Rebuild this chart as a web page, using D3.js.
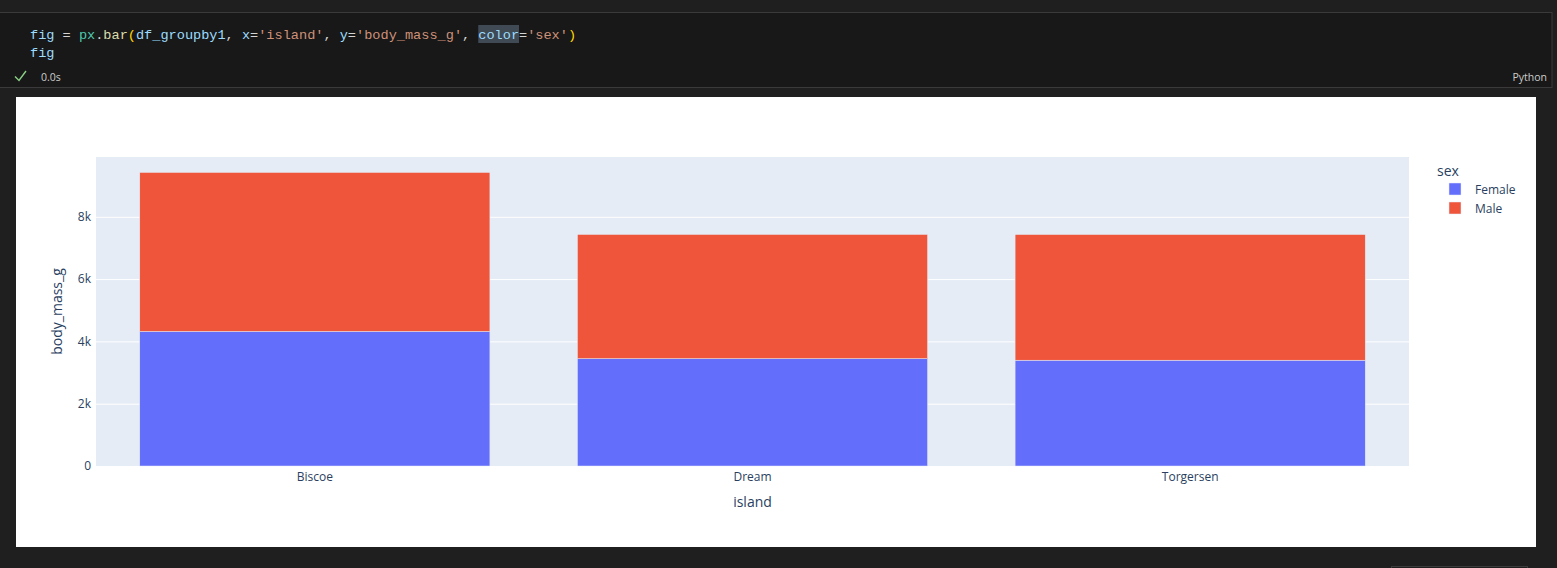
<!DOCTYPE html>
<html><head><meta charset="utf-8">
<script src="https://cdn.jsdelivr.net/npm/d3@7"></script>
<style>
html,body{margin:0;padding:0;background:#1f1f1f;overflow:hidden}
svg{display:block}
</style></head>
<body>
<svg id="c" width="1557" height="568"></svg>
<script>
const islands = ["Biscoe", "Dream", "Torgersen"];
const sexes = ["Female", "Male"];
const femaleMass = [4319, 3446, 3396];
const maleMass = [5105, 3987, 4035];
const sexColors = ["#636efa", "#EF553B"];
const yTicks = [0, 2000, 4000, 6000, 8000];

const svg = d3.select("#c");
const W = 1557, H = 568;
svg.append("rect").attr("width", W).attr("height", H).attr("fill", "#1f1f1f");

// code cell
svg.append("rect").attr("x", -1).attr("y", 12.5).attr("width", 1553).attr("height", 75)
  .attr("fill", "#181818").attr("stroke", "#3a3a3a").attr("stroke-width", 1);

const mono = "'Liberation Mono','DejaVu Sans Mono',monospace";
const line1 = [
  ["fig", "#9cdcfe"], [" = ", "#d4d4d4"], ["px", "#4ec9b0"], [".", "#d4d4d4"], ["bar", "#dcdcaa"],
  ["(", "#ffd700"], ["df_groupby1", "#9cdcfe"], [", ", "#d4d4d4"], ["x", "#9cdcfe"], ["=", "#d4d4d4"],
  ["'island'", "#ce9178"], [", ", "#d4d4d4"], ["y", "#9cdcfe"], ["=", "#d4d4d4"], ["'body_mass_g'", "#ce9178"],
  [", ", "#d4d4d4"], ["color", "#9cdcfe", true], ["=", "#d4d4d4"], ["'sex'", "#ce9178"], [")", "#ffd700"]
];
const cw = 8.15;
let cx = 30;
line1.forEach(([t, col, hl]) => {
  if (hl) svg.append("rect").attr("x", cx).attr("y", 25).attr("width", t.length * cw).attr("height", 18).attr("fill", "#3f4a55");
  svg.append("text").attr("x", cx).attr("y", 39).attr("fill", col)
    .attr("font-family", mono).attr("font-size", 13.6).attr("xml:space", "preserve").text(t);
  cx += t.length * cw;
});
svg.append("text").attr("x", 30).attr("y", 57).attr("fill", "#9cdcfe")
  .attr("font-family", mono).attr("font-size", 13.6).text("fig");
svg.append("path").attr("d", "M15,76.5 L19,80.5 L26,71").attr("fill", "none").attr("stroke", "#89d185").attr("stroke-width", 1.4);
svg.append("text").attr("x", 41).attr("y", 81).attr("fill", "#cccccc")
  .attr("font-family", "'Open Sans',sans-serif").attr("font-size", 10.5).text("0.0s");
svg.append("text").attr("x", 1547).attr("y", 81).attr("fill", "#cccccc").attr("text-anchor", "end")
  .attr("font-family", "'Open Sans',sans-serif").attr("font-size", 10.5).text("Python");

// output area
svg.append("rect").attr("x", 16).attr("y", 97).attr("width", 1520).attr("height", 450).attr("fill", "#ffffff");
svg.append("rect").attr("x", 1391.5).attr("y", 566.5).attr("width", 136).attr("height", 10)
  .attr("fill", "none").attr("stroke", "#3c3c3c");

const m = {l: 96, r: 1409, t: 157, b: 466};
const x = d3.scaleBand().domain(islands).range([m.l, m.r]).paddingInner(0.2).paddingOuter(0.1);
const y = d3.scaleLinear().domain([0, 9920]).range([m.b, m.t]);
const font = "'Open Sans',sans-serif";
const tc = "#2a3f5f";

svg.append("rect").attr("x", m.l).attr("y", m.t).attr("width", m.r - m.l).attr("height", m.b - m.t).attr("fill", "#E5ECF6");

const yAxis = d3.axisLeft(y).tickValues(yTicks).tickFormat(d3.format("~s")).tickSize(-(m.r - m.l)).tickPadding(4);
const gy = svg.append("g").attr("transform", `translate(${m.l},0)`).call(yAxis);
gy.select(".domain").remove();
gy.selectAll("line").attr("stroke", "#ffffff").attr("stroke-width", 1);
gy.selectAll("text").attr("fill", tc).attr("font-family", font).attr("font-size", 12).attr("dx", -1);
gy.selectAll(".tick").filter(d => d === 0).select("line").remove();

const data = islands.map((isl, i) => ({isl, vals: [femaleMass[i], maleMass[i]]}));
const stack = d3.stack().keys([0, 1]).value((d, k) => d.vals[k]);
const series = stack(data);
series.forEach((s, k) => {
  svg.append("g").selectAll("rect").data(s).join("rect")
    .attr("x", d => x(d.data.isl))
    .attr("y", d => y(d[1]))
    .attr("width", x.bandwidth())
    .attr("height", d => y(d[0]) - y(d[1]))
    .attr("fill", sexColors[k])
    .attr("stroke", "#E5ECF6").attr("stroke-width", 0.5);
});

const xAxis = d3.axisBottom(x).tickSize(0).tickPadding(6);
const gx = svg.append("g").attr("transform", `translate(0,${m.b})`).call(xAxis);
gx.select(".domain").remove();
gx.selectAll("text").attr("fill", tc).attr("font-family", font).attr("font-size", 12);

svg.append("text").attr("x", (m.l + m.r) / 2).attr("y", 507).attr("text-anchor", "middle")
  .attr("fill", tc).attr("font-family", font).attr("font-size", 14).text("island");
svg.append("text").attr("transform", `translate(62,${(m.t + m.b) / 2}) rotate(-90)`).attr("text-anchor", "middle")
  .attr("fill", tc).attr("font-family", font).attr("font-size", 14).text("body_mass_g");

// legend
svg.append("text").attr("x", 1437).attr("y", 176).attr("fill", tc).attr("font-family", font).attr("font-size", 14).text("sex");
sexes.forEach((s, i) => {
  const yy = 189 + i * 19;
  svg.append("rect").attr("x", 1449).attr("y", yy - 6).attr("width", 12).attr("height", 12)
    .attr("fill", sexColors[i]).attr("stroke", "#E5ECF6").attr("stroke-width", 0.5);
  svg.append("text").attr("x", 1475).attr("y", yy + 4.5).attr("fill", tc).attr("font-family", font).attr("font-size", 12).text(s);
});
</script>
</body></html>
